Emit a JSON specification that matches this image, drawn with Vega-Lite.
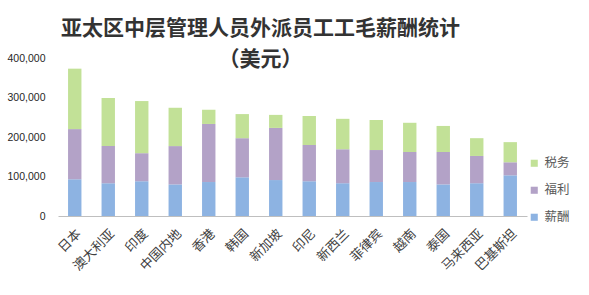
{
  "$schema": "https://vega.github.io/schema/vega-lite/v6.json",
  "width": 469,
  "height": 158,
  "autosize": {"type": "none"},
  "padding": {"left": 58, "top": 58, "right": 62, "bottom": 79},
  "background": "white",
  "config": {"view": {"stroke": null}, "font": "Noto Sans CJK SC"},
  "title": {
    "text": ["亚太区中层管理人员外派员工工毛薪酬统计", "（美元）"],
    "font": "Noto Sans CJK SC",
    "fontSize": 21,
    "fontWeight": "bold",
    "color": "#333333",
    "anchor": "middle",
    "dx": -32,
    "lineHeight": 31,
    "offset": -17
  },
  "data": {
    "values": [
      {"country": "日本", "series": "薪酬", "value": 93000},
      {"country": "日本", "series": "福利", "value": 127000},
      {"country": "日本", "series": "税务", "value": 153000},
      {"country": "澳大利亚", "series": "薪酬", "value": 83000},
      {"country": "澳大利亚", "series": "福利", "value": 94000},
      {"country": "澳大利亚", "series": "税务", "value": 122000},
      {"country": "印度", "series": "薪酬", "value": 88000},
      {"country": "印度", "series": "福利", "value": 71000},
      {"country": "印度", "series": "税务", "value": 132000},
      {"country": "中国内地", "series": "薪酬", "value": 80000},
      {"country": "中国内地", "series": "福利", "value": 97000},
      {"country": "中国内地", "series": "税务", "value": 97000},
      {"country": "香港", "series": "薪酬", "value": 86000},
      {"country": "香港", "series": "福利", "value": 147000},
      {"country": "香港", "series": "税务", "value": 36000},
      {"country": "韩国", "series": "薪酬", "value": 98000},
      {"country": "韩国", "series": "福利", "value": 99000},
      {"country": "韩国", "series": "税务", "value": 61000},
      {"country": "新加坡", "series": "薪酬", "value": 91000},
      {"country": "新加坡", "series": "福利", "value": 132000},
      {"country": "新加坡", "series": "税务", "value": 33000},
      {"country": "印尼", "series": "薪酬", "value": 88000},
      {"country": "印尼", "series": "福利", "value": 92000},
      {"country": "印尼", "series": "税务", "value": 73000},
      {"country": "新西兰", "series": "薪酬", "value": 83000},
      {"country": "新西兰", "series": "福利", "value": 86000},
      {"country": "新西兰", "series": "税务", "value": 77000},
      {"country": "菲律宾", "series": "薪酬", "value": 86000},
      {"country": "菲律宾", "series": "福利", "value": 81000},
      {"country": "菲律宾", "series": "税务", "value": 76000},
      {"country": "越南", "series": "薪酬", "value": 86000},
      {"country": "越南", "series": "福利", "value": 76000},
      {"country": "越南", "series": "税务", "value": 74000},
      {"country": "泰国", "series": "薪酬", "value": 80000},
      {"country": "泰国", "series": "福利", "value": 82000},
      {"country": "泰国", "series": "税务", "value": 66000},
      {"country": "马来西亚", "series": "薪酬", "value": 83000},
      {"country": "马来西亚", "series": "福利", "value": 69000},
      {"country": "马来西亚", "series": "税务", "value": 45000},
      {"country": "巴基斯坦", "series": "薪酬", "value": 103000},
      {"country": "巴基斯坦", "series": "福利", "value": 33000},
      {"country": "巴基斯坦", "series": "税务", "value": 51000}
    ]
  },
  "transform": [
    {"calculate": "indexof(['薪酬','福利','税务'], datum.series)", "as": "stackOrder"}
  ],
  "mark": {"type": "bar"},
  "encoding": {
    "x": {
      "field": "country",
      "type": "nominal",
      "sort": null,
      "scale": {"paddingInner": 0.6, "paddingOuter": 0.3},
      "axis": {
        "title": null,
        "labelAngle": -45,
        "labelFontSize": 13,
        "labelColor": "#404040",
        "labelFont": "Noto Sans CJK SC",
        "domainColor": "#BFBFBF",
        "ticks": false,
        "labelPadding": 11,
        "labelOffset": 0
      }
    },
    "y": {
      "field": "value",
      "type": "quantitative",
      "stack": "zero",
      "scale": {"domain": [0, 400000]},
      "axis": {
        "title": null,
        "values": [0, 100000, 200000, 300000, 400000],
        "format": ",.0f",
        "grid": false,
        "domain": false,
        "ticks": false,
        "labelPadding": 13,
        "labelFontSize": 10.5,
        "labelColor": "#262626",
        "labelFont": "Liberation Sans"
      }
    },
    "color": {
      "field": "series",
      "type": "nominal",
      "scale": {"domain": ["税务", "福利", "薪酬"], "range": ["#C2E197", "#B3A2C7", "#8DB3E2"]},
      "legend": {
        "title": null,
        "orient": "none",
        "legendX": 470,
        "legendY": 99,
        "direction": "vertical",
        "symbolType": "square",
        "symbolSize": 50,
        "symbolStrokeWidth": 0,
        "labelFontSize": 12.5,
        "labelColor": "#595959",
        "labelFont": "Noto Sans CJK SC",
        "rowPadding": 14,
        "labelOffset": 4
      }
    },
    "order": {"field": "stackOrder", "type": "quantitative", "sort": "ascending"}
  }
}
